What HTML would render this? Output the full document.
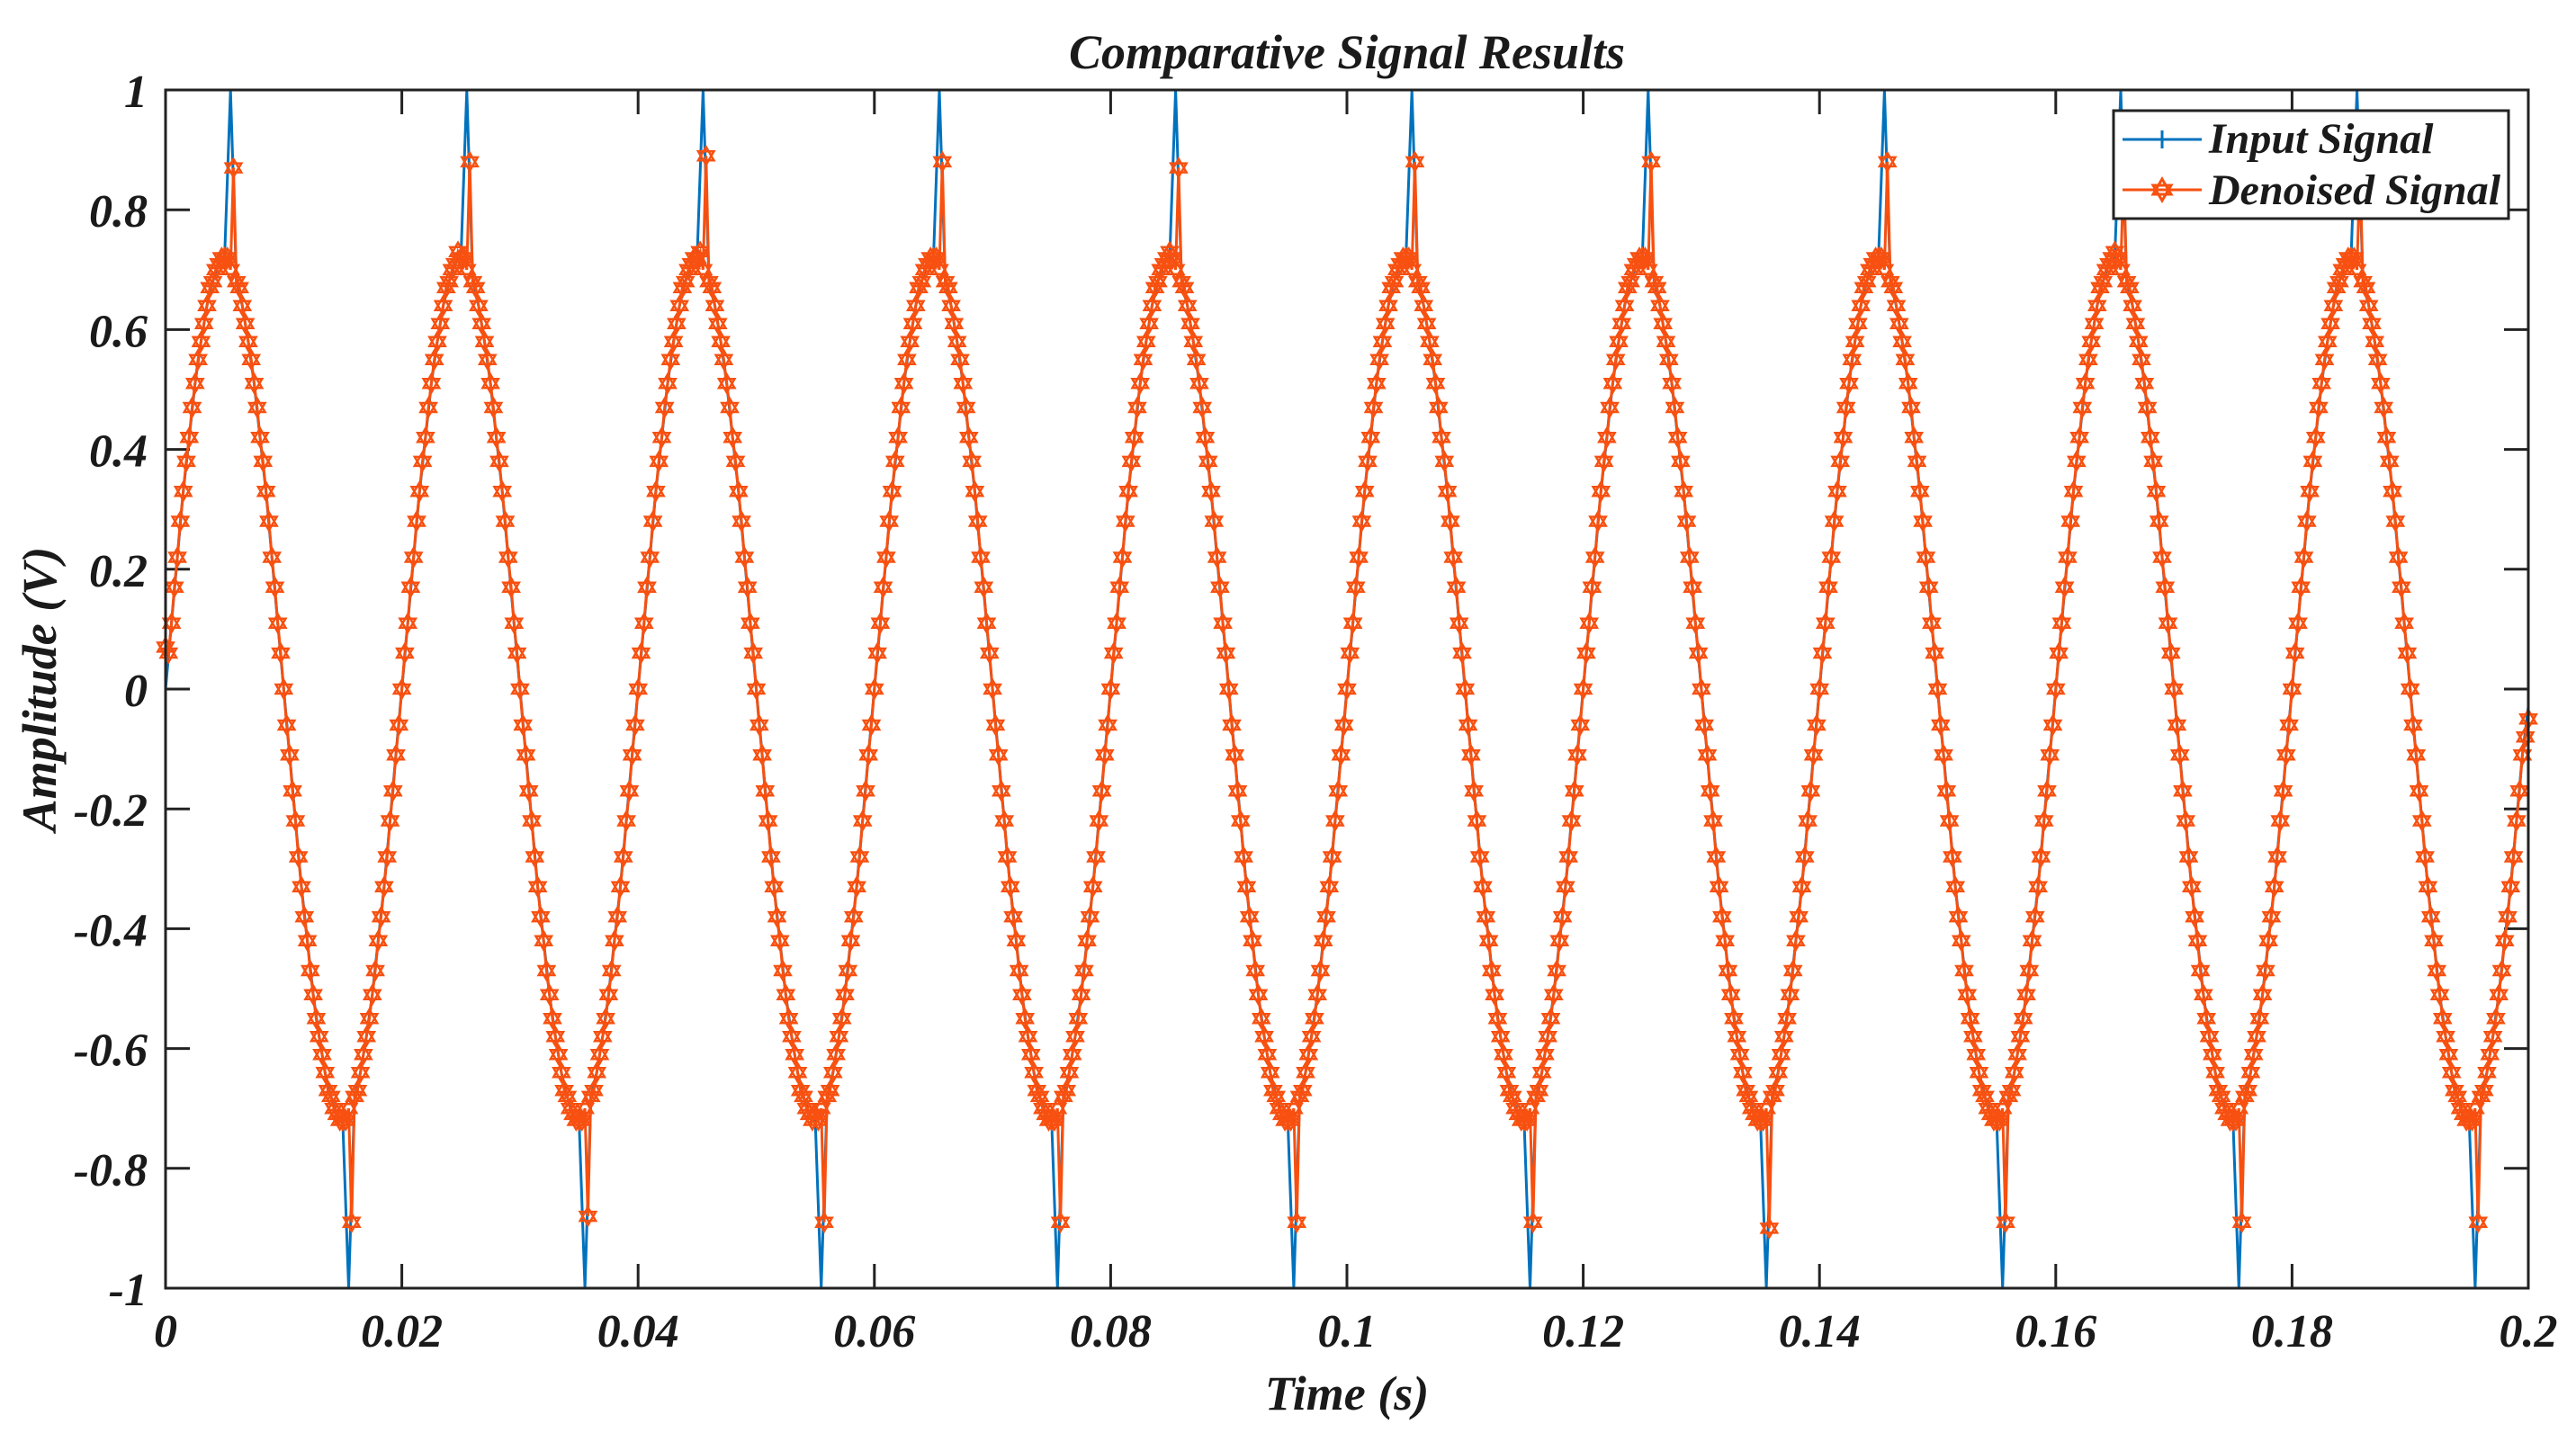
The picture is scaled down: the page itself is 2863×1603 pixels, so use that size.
<!DOCTYPE html>
<html><head><meta charset="utf-8"><style>
html,body{margin:0;padding:0;background:#fff;}
svg text{font-family:"Liberation Serif",serif;font-weight:bold;font-style:italic;fill:#1a1a1a;}
</style></head><body>
<svg id="chart" width="2863" height="1598" viewBox="0 0 2863 1598" xmlns="http://www.w3.org/2000/svg">
<rect x="0" y="0" width="2863" height="1598" fill="#fff"/>
<text x="1497" y="76" font-size="54" text-anchor="middle">Comparative Signal Results</text>
<g id="grid-ticks"></g>
<g id="series"></g>
<rect x="184" y="100" width="2626" height="1332" fill="none" stroke="#222" stroke-width="3"/>
<text x="1497" y="1567" font-size="54" text-anchor="middle">Time (s)</text>
<text transform="translate(62,766) rotate(-90)" font-size="54" text-anchor="middle">Amplitude (V)</text>
<g>
<rect x="2349" y="123" width="439" height="120" fill="#fff" stroke="#222" stroke-width="3"/>
<g>
<line x1="2359" y1="155" x2="2447" y2="155" stroke="#0072BD" stroke-width="3"/>
<line x1="2403" y1="145" x2="2403" y2="165" stroke="#0072BD" stroke-width="3"/>
<text x="2455" y="170" font-size="48">Input Signal</text>
</g>
<g>
<line x1="2359" y1="211" x2="2447" y2="211" stroke="#F75010" stroke-width="3"/>
<path d="M2403,199 L2413,216 L2393,216 Z M2403,223 L2393,206 L2413,206 Z" fill="none" stroke="#F75010" stroke-width="3"/>
<text x="2455" y="227" font-size="48">Denoised Signal</text>
</g>
</g>
</svg>
<script>
const xTicks = [0,0.02,0.04,0.06,0.08,0.1,0.12,0.14,0.16,0.18,0.2];
const xTickLabels = ["0","0.02","0.04","0.06","0.08","0.1","0.12","0.14","0.16","0.18","0.2"];
const yTicks = [-1,-0.8,-0.6,-0.4,-0.2,0,0.2,0.4,0.6,0.8,1];
const yTickLabels = ["-1","-0.8","-0.6","-0.4","-0.2","0","0.2","0.4","0.6","0.8","1"];
const inputStep = 0.0005;
const denoisedStep = 0.00025;
const denoised = [
0.07,0.06,0.11,0.17,0.22,0.28,0.33,0.38,0.42,0.47,0.51,0.55,0.58,0.61,0.64,0.67,0.68,0.70,0.71,0.72,0.72,0.72,0.70,0.87,0.68,0.67,0.64,0.61,0.58,0.55,0.51,0.47,0.42,0.38,0.33,0.28,0.22,0.17,0.11,0.06,0,-0.06,-0.11,-0.17,-0.22,-0.28,-0.33,-0.38,-0.42,-0.47,-0.51,-0.55,-0.58,-0.61,-0.64,-0.67,-0.68,-0.70,-0.71,-0.72,-0.72,-0.72,-0.70,-0.89,-0.68,-0.67,-0.64,-0.61,-0.58,-0.55,-0.51,-0.47,-0.42,-0.38,-0.33,-0.28,-0.22,-0.17,-0.11,-0.06,
0,0.06,0.11,0.17,0.22,0.28,0.33,0.38,0.42,0.47,0.51,0.55,0.58,0.61,0.64,0.67,0.68,0.70,0.71,0.73,0.72,0.72,0.70,0.88,0.68,0.67,0.64,0.61,0.58,0.55,0.51,0.47,0.42,0.38,0.33,0.28,0.22,0.17,0.11,0.06,0,-0.06,-0.11,-0.17,-0.22,-0.28,-0.33,-0.38,-0.42,-0.47,-0.51,-0.55,-0.58,-0.61,-0.64,-0.67,-0.68,-0.70,-0.71,-0.72,-0.72,-0.72,-0.70,-0.88,-0.68,-0.67,-0.64,-0.61,-0.58,-0.55,-0.51,-0.47,-0.42,-0.38,-0.33,-0.28,-0.22,-0.17,-0.11,-0.06,
0,0.06,0.11,0.17,0.22,0.28,0.33,0.38,0.42,0.47,0.51,0.55,0.58,0.61,0.64,0.67,0.68,0.70,0.71,0.72,0.72,0.73,0.70,0.89,0.68,0.67,0.64,0.61,0.58,0.55,0.51,0.47,0.42,0.38,0.33,0.28,0.22,0.17,0.11,0.06,0,-0.06,-0.11,-0.17,-0.22,-0.28,-0.33,-0.38,-0.42,-0.47,-0.51,-0.55,-0.58,-0.61,-0.64,-0.67,-0.68,-0.70,-0.71,-0.72,-0.71,-0.72,-0.70,-0.89,-0.68,-0.67,-0.64,-0.61,-0.58,-0.55,-0.51,-0.47,-0.42,-0.38,-0.33,-0.28,-0.22,-0.17,-0.11,-0.06,
0,0.06,0.11,0.17,0.22,0.28,0.33,0.38,0.42,0.47,0.51,0.55,0.58,0.61,0.64,0.67,0.68,0.70,0.71,0.72,0.72,0.72,0.70,0.88,0.68,0.67,0.64,0.61,0.58,0.55,0.51,0.47,0.42,0.38,0.33,0.28,0.22,0.17,0.11,0.06,0,-0.06,-0.11,-0.17,-0.22,-0.28,-0.33,-0.38,-0.42,-0.47,-0.51,-0.55,-0.58,-0.61,-0.64,-0.67,-0.68,-0.70,-0.71,-0.72,-0.72,-0.72,-0.70,-0.89,-0.68,-0.67,-0.64,-0.61,-0.58,-0.55,-0.51,-0.47,-0.42,-0.38,-0.33,-0.28,-0.22,-0.17,-0.11,-0.06,
0,0.06,0.11,0.17,0.22,0.28,0.33,0.38,0.42,0.47,0.51,0.55,0.58,0.61,0.64,0.67,0.68,0.70,0.71,0.72,0.73,0.72,0.70,0.87,0.68,0.67,0.64,0.61,0.58,0.55,0.51,0.47,0.42,0.38,0.33,0.28,0.22,0.17,0.11,0.06,0,-0.06,-0.11,-0.17,-0.22,-0.28,-0.33,-0.38,-0.42,-0.47,-0.51,-0.55,-0.58,-0.61,-0.64,-0.67,-0.68,-0.70,-0.71,-0.72,-0.72,-0.72,-0.70,-0.89,-0.68,-0.67,-0.64,-0.61,-0.58,-0.55,-0.51,-0.47,-0.42,-0.38,-0.33,-0.28,-0.22,-0.17,-0.11,-0.06,
0,0.06,0.11,0.17,0.22,0.28,0.33,0.38,0.42,0.47,0.51,0.55,0.58,0.61,0.64,0.67,0.68,0.70,0.71,0.72,0.72,0.72,0.70,0.88,0.68,0.67,0.64,0.61,0.58,0.55,0.51,0.47,0.42,0.38,0.33,0.28,0.22,0.17,0.11,0.06,0,-0.06,-0.11,-0.17,-0.22,-0.28,-0.33,-0.38,-0.42,-0.47,-0.51,-0.55,-0.58,-0.61,-0.64,-0.67,-0.68,-0.70,-0.71,-0.72,-0.72,-0.72,-0.70,-0.89,-0.68,-0.67,-0.64,-0.61,-0.58,-0.55,-0.51,-0.47,-0.42,-0.38,-0.33,-0.28,-0.22,-0.17,-0.11,-0.06,
0,0.06,0.11,0.17,0.22,0.28,0.33,0.38,0.42,0.47,0.51,0.55,0.58,0.61,0.64,0.67,0.68,0.70,0.71,0.72,0.72,0.72,0.70,0.88,0.68,0.67,0.64,0.61,0.58,0.55,0.51,0.47,0.42,0.38,0.33,0.28,0.22,0.17,0.11,0.06,0,-0.06,-0.11,-0.17,-0.22,-0.28,-0.33,-0.38,-0.42,-0.47,-0.51,-0.55,-0.58,-0.61,-0.64,-0.67,-0.68,-0.70,-0.71,-0.72,-0.72,-0.72,-0.70,-0.90,-0.68,-0.67,-0.64,-0.61,-0.58,-0.55,-0.51,-0.47,-0.42,-0.38,-0.33,-0.28,-0.22,-0.17,-0.11,-0.06,
0,0.06,0.11,0.17,0.22,0.28,0.33,0.38,0.42,0.47,0.51,0.55,0.58,0.61,0.64,0.67,0.68,0.70,0.71,0.72,0.72,0.72,0.70,0.88,0.68,0.67,0.64,0.61,0.58,0.55,0.51,0.47,0.42,0.38,0.33,0.28,0.22,0.17,0.11,0.06,0,-0.06,-0.11,-0.17,-0.22,-0.28,-0.33,-0.38,-0.42,-0.47,-0.51,-0.55,-0.58,-0.61,-0.64,-0.67,-0.68,-0.70,-0.71,-0.72,-0.72,-0.72,-0.70,-0.89,-0.68,-0.67,-0.64,-0.61,-0.58,-0.55,-0.51,-0.47,-0.42,-0.38,-0.33,-0.28,-0.22,-0.17,-0.11,-0.06,
0,0.06,0.11,0.17,0.22,0.28,0.33,0.38,0.42,0.47,0.51,0.55,0.58,0.61,0.64,0.67,0.68,0.70,0.71,0.72,0.73,0.72,0.70,0.87,0.68,0.67,0.64,0.61,0.58,0.55,0.51,0.47,0.42,0.38,0.33,0.28,0.22,0.17,0.11,0.06,0,-0.06,-0.11,-0.17,-0.22,-0.28,-0.33,-0.38,-0.42,-0.47,-0.51,-0.55,-0.58,-0.61,-0.64,-0.67,-0.68,-0.70,-0.71,-0.72,-0.72,-0.72,-0.70,-0.89,-0.68,-0.67,-0.64,-0.61,-0.58,-0.55,-0.51,-0.47,-0.42,-0.38,-0.33,-0.28,-0.22,-0.17,-0.11,-0.06,
0,0.06,0.11,0.17,0.22,0.28,0.33,0.38,0.42,0.47,0.51,0.55,0.58,0.61,0.64,0.67,0.68,0.70,0.71,0.72,0.72,0.72,0.70,0.87,0.68,0.67,0.64,0.61,0.58,0.55,0.51,0.47,0.42,0.38,0.33,0.28,0.22,0.17,0.11,0.06,0,-0.06,-0.11,-0.17,-0.22,-0.28,-0.33,-0.38,-0.42,-0.47,-0.51,-0.55,-0.58,-0.61,-0.64,-0.67,-0.68,-0.70,-0.71,-0.72,-0.72,-0.72,-0.70,-0.89,-0.68,-0.67,-0.64,-0.61,-0.58,-0.55,-0.51,-0.47,-0.42,-0.38,-0.33,-0.28,-0.22,-0.17,-0.11,-0.08,
-0.05];
const input = [
0.00,0.11,0.22,0.33,0.42,0.51,0.58,0.64,0.68,0.71,0.72,1.00,0.68,0.64,0.58,0.51,0.42,0.33,0.22,0.11,0,-0.11,-0.22,-0.33,-0.42,-0.51,-0.58,-0.64,-0.68,-0.71,-0.72,-1.00,-0.68,-0.64,-0.58,-0.51,-0.42,-0.33,-0.22,-0.11,
0,0.11,0.22,0.33,0.42,0.51,0.58,0.64,0.68,0.71,0.72,1.00,0.68,0.64,0.58,0.51,0.42,0.33,0.22,0.11,0,-0.11,-0.22,-0.33,-0.42,-0.51,-0.58,-0.64,-0.68,-0.71,-0.72,-1.00,-0.68,-0.64,-0.58,-0.51,-0.42,-0.33,-0.22,-0.11,
0,0.11,0.22,0.33,0.42,0.51,0.58,0.64,0.68,0.71,0.72,1.00,0.68,0.64,0.58,0.51,0.42,0.33,0.22,0.11,0,-0.11,-0.22,-0.33,-0.42,-0.51,-0.58,-0.64,-0.68,-0.71,-0.72,-1.00,-0.68,-0.64,-0.58,-0.51,-0.42,-0.33,-0.22,-0.11,
0,0.11,0.22,0.33,0.42,0.51,0.58,0.64,0.68,0.71,0.72,1.00,0.68,0.64,0.58,0.51,0.42,0.33,0.22,0.11,0,-0.11,-0.22,-0.33,-0.42,-0.51,-0.58,-0.64,-0.68,-0.71,-0.72,-1.00,-0.68,-0.64,-0.58,-0.51,-0.42,-0.33,-0.22,-0.11,
0,0.11,0.22,0.33,0.42,0.51,0.58,0.64,0.68,0.71,0.72,1.00,0.68,0.64,0.58,0.51,0.42,0.33,0.22,0.11,0,-0.11,-0.22,-0.33,-0.42,-0.51,-0.58,-0.64,-0.68,-0.71,-0.72,-1.00,-0.68,-0.64,-0.58,-0.51,-0.42,-0.33,-0.22,-0.11,
0,0.11,0.22,0.33,0.42,0.51,0.58,0.64,0.68,0.71,0.72,1.00,0.68,0.64,0.58,0.51,0.42,0.33,0.22,0.11,0,-0.11,-0.22,-0.33,-0.42,-0.51,-0.58,-0.64,-0.68,-0.71,-0.72,-1.00,-0.68,-0.64,-0.58,-0.51,-0.42,-0.33,-0.22,-0.11,
0,0.11,0.22,0.33,0.42,0.51,0.58,0.64,0.68,0.71,0.72,1.00,0.68,0.64,0.58,0.51,0.42,0.33,0.22,0.11,0,-0.11,-0.22,-0.33,-0.42,-0.51,-0.58,-0.64,-0.68,-0.71,-0.72,-1.00,-0.68,-0.64,-0.58,-0.51,-0.42,-0.33,-0.22,-0.11,
0,0.11,0.22,0.33,0.42,0.51,0.58,0.64,0.68,0.71,0.72,1.00,0.68,0.64,0.58,0.51,0.42,0.33,0.22,0.11,0,-0.11,-0.22,-0.33,-0.42,-0.51,-0.58,-0.64,-0.68,-0.71,-0.72,-1.00,-0.68,-0.64,-0.58,-0.51,-0.42,-0.33,-0.22,-0.11,
0,0.11,0.22,0.33,0.42,0.51,0.58,0.64,0.68,0.71,0.72,1.00,0.68,0.64,0.58,0.51,0.42,0.33,0.22,0.11,0,-0.11,-0.22,-0.33,-0.42,-0.51,-0.58,-0.64,-0.68,-0.71,-0.72,-1.00,-0.68,-0.64,-0.58,-0.51,-0.42,-0.33,-0.22,-0.11,
0,0.11,0.22,0.33,0.42,0.51,0.58,0.64,0.68,0.71,0.72,1.00,0.68,0.64,0.58,0.51,0.42,0.33,0.22,0.11,0,-0.11,-0.22,-0.33,-0.42,-0.51,-0.58,-0.64,-0.68,-0.71,-0.72,-1.00,-0.68,-0.64,-0.58,-0.51,-0.42,-0.33,-0.22,-0.11,
-0.03];

const NS = "http://www.w3.org/2000/svg";
const L = 184, R = 2810, T = 100, B = 1432;
function xs(v){ return L + (v - 0) / 0.2 * (R - L); }
function ys(v){ return B - (v + 1) / 2 * (B - T); }
function mk(tag, attrs, parent){ const e = document.createElementNS(NS, tag); for (const k in attrs) e.setAttribute(k, attrs[k]); parent.appendChild(e); return e; }

const tg = document.getElementById('grid-ticks');
xTicks.forEach((v, i) => {
  const x = xs(v);
  const t1 = mk('path', {d:`M${x},${B} V${B-27} M${x},${T} V${T+27}`, stroke:'#222', 'stroke-width':3}, tg);
  
  
  const lb = mk('text', {x:x, y:1497, 'font-size':52, 'text-anchor':'middle'}, tg);
  lb.textContent = xTickLabels[i];
  
  
});
yTicks.forEach((v, i) => {
  const y = ys(v);
  const t1 = mk('path', {d:`M${L},${y} H${L+27} M${R},${y} H${R-27}`, stroke:'#222', 'stroke-width':3}, tg);
  
  
  const lb = mk('text', {x:164, y:y+19, 'font-size':52, 'text-anchor':'end'}, tg);
  lb.textContent = yTickLabels[i];
  
  
});

const sg = document.getElementById('series');
let dIn = '';
input.forEach((v, i) => { dIn += (i ? 'L' : 'M') + xs(i*inputStep).toFixed(1) + ',' + ys(v).toFixed(1); });
const pin = mk('path', {d:dIn, fill:'none', stroke:'#0072BD', 'stroke-width':3}, sg);



let dDn = '';
denoised.forEach((v, i) => { dDn += (i ? 'L' : 'M') + xs(i*denoisedStep).toFixed(1) + ',' + ys(v).toFixed(1); });
const pdn = mk('path', {d:dDn, fill:'none', stroke:'#F75010', 'stroke-width':3}, sg);



let dM = '';
denoised.forEach((v, i) => {
  const x = xs(i*denoisedStep), y = ys(v), r = 10;
  dM += `M${x.toFixed(1)},${(y-r).toFixed(1)}L${(x+r*0.87).toFixed(1)},${(y+r/2).toFixed(1)}L${(x-r*0.87).toFixed(1)},${(y+r/2).toFixed(1)}Z`;
  dM += `M${x.toFixed(1)},${(y+r).toFixed(1)}L${(x-r*0.87).toFixed(1)},${(y-r/2).toFixed(1)}L${(x+r*0.87).toFixed(1)},${(y-r/2).toFixed(1)}Z`;
});
const pm = mk('path', {d:dM, fill:'none', stroke:'#F75010', 'stroke-width':2.5}, sg);


</script>
</body></html>
